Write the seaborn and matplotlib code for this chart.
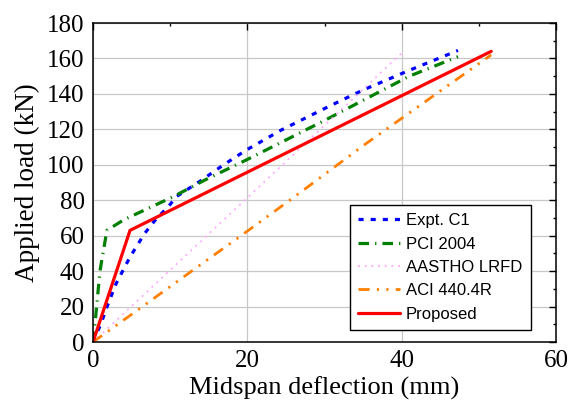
import numpy as np
import pandas as pd
import matplotlib
matplotlib.use("Agg")
import matplotlib.pyplot as plt
import seaborn as sns
from matplotlib.ticker import MultipleLocator

sns.set_theme(style="white")

# ---- data ----
expt_x = [0, 1.0, 2.0, 3.0, 4.8, 5.9, 6.7, 8.25, 9.75, 10.8, 14.1, 16.9, 19.9, 24.4, 30.5, 35.0, 41.1, 47.3]
expt_y = [0, 10, 22, 33, 48, 55.7, 61.3, 69.8, 76.3, 82, 91.4, 99.9, 108.4, 119.6, 132.8, 142.2, 153.5, 164.5]
pci_x = [0, 0.3, 0.9, 1.8, 4.0, 10.4, 14.5, 20.0, 30.0, 41.0, 47.3]
pci_y = [0, 12, 40, 63, 69, 82, 91.4, 103, 125, 150, 161]
aashto_x = [0, 5.2, 40.0]
aashto_y = [0, 21, 163]
aci_x = [0, 5.2, 13.9, 19.0, 25.5, 35.4, 51.6]
aci_y = [0, 16.2, 43.5, 59.4, 80, 112, 162]
prop_x = [0, 4.8, 51.6]
prop_y = [0, 63, 164]

x_ticks = [0, 20, 40, 60]
y_ticks = [0, 20, 40, 60, 80, 100, 120, 140, 160, 180]

series = [
    ("Expt. C1", expt_x, expt_y, "#0000ff", 2.3, (0, (1.6, 2.2))),
    ("PCI 2004", pci_x, pci_y, "#008000", 2.3, (0, (3.3, 1.9, 0.4, 1.9))),
    ("AASTHO LRFD", aashto_x, aashto_y, "#ffa8ff", 1.2, (0, (1.2, 2.8))),
    ("ACI 440.4R", aci_x, aci_y, "#ff8000", 2.0, (0, (4.0, 2.6, 0.8, 2.6, 0.8, 2.6))),
    ("Proposed", prop_x, prop_y, "#ff0000", 2.3, "-"),
]

fig = plt.figure(figsize=(5.69, 4.11), dpi=100)
ax = fig.add_axes([93 / 569, 1 - 342 / 411, (556 - 93) / 569, (342 - 23) / 411])

for name, xs, ys, col, lw, ls in series:
    df = pd.DataFrame({"x": xs, "y": ys})
    sns.lineplot(data=df, x="x", y="y", ax=ax, color=col, linewidth=lw,
                 linestyle=ls, label=name, sort=False, estimator=None)

ax.set_xlim(0, 60)
ax.set_ylim(0, 180)
ax.set_xticks(x_ticks)
ax.set_yticks(y_ticks)
ax.xaxis.set_minor_locator(MultipleLocator(10))
ax.yaxis.set_minor_locator(MultipleLocator(10))
ax.grid(True, which="major", color="#c8c8c8", linewidth=0.9)
ax.set_axisbelow(True)

serif = ["Liberation Serif", "DejaVu Serif"]
ax.set_xlabel("Midspan deflection (mm)", fontsize=19, family=serif, color="black", labelpad=3)
ax.set_ylabel("Applied load (kN)", fontsize=19.5, family=serif, color="black", labelpad=5)
for lab in ax.get_xticklabels() + ax.get_yticklabels():
    lab.set_family(serif)
    lab.set_fontsize(18)
    lab.set_color("black")

for sp in ax.spines.values():
    sp.set_color("black")
    sp.set_linewidth(1.1)

ax.tick_params(axis="both", which="major", direction="out", length=5, width=1.0,
               color="black", pad=1)
ax.tick_params(axis="both", which="minor", direction="out", length=2.5, width=1.0, color="black")
ax.tick_params(which="both", top=True, right=True)
# top/right ticks point inward
for t in ax.xaxis.get_major_ticks() + ax.xaxis.get_minor_ticks():
    t.tick2line.set_marker(3)
for t in ax.yaxis.get_major_ticks() + ax.yaxis.get_minor_ticks():
    t.tick2line.set_marker(0)

leg = ax.legend(loc="lower right", bbox_to_anchor=(0.945, 0.038), borderaxespad=0,
                frameon=True, fancybox=False, edgecolor="black", framealpha=1,
                handlelength=2.5, borderpad=0.5, labelspacing=0.5, handletextpad=0.35,
                prop={"family": ["Liberation Sans", "DejaVu Sans"], "size": 12})
leg.get_frame().set_linewidth(1.0)
for txt in leg.get_texts():
    txt.set_color("black")

fig.savefig("out.png", dpi=100)
